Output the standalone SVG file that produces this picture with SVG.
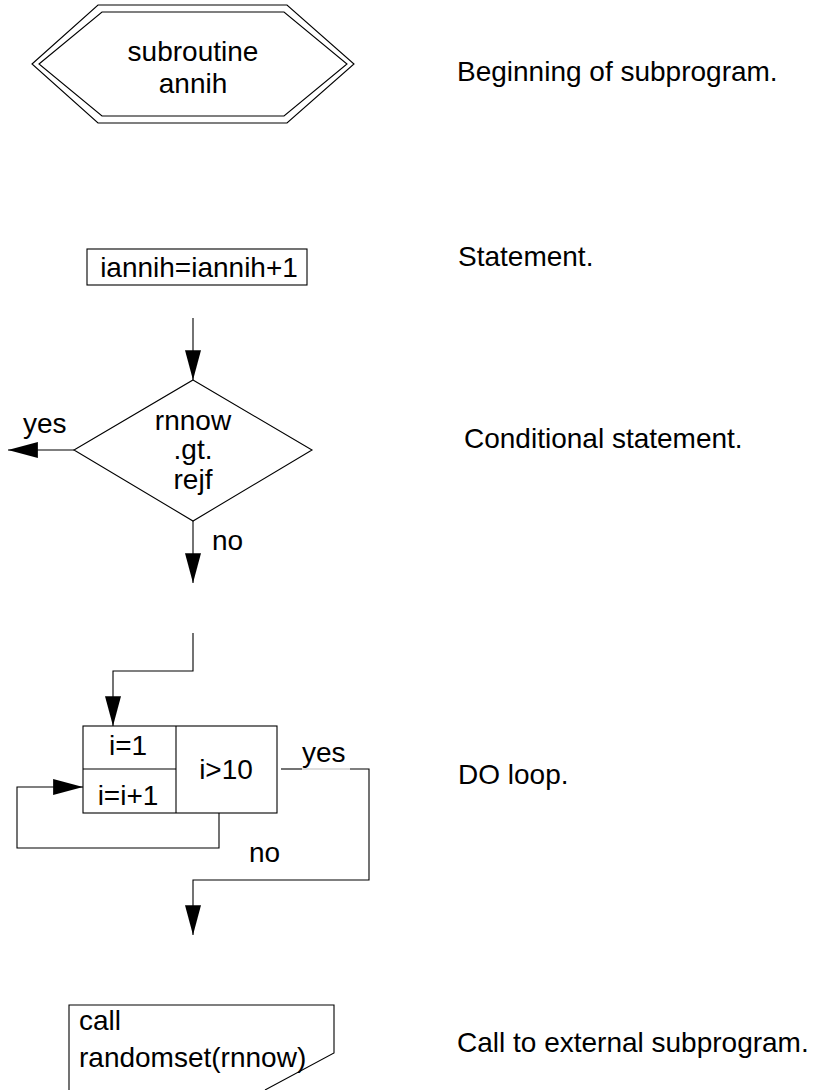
<svg xmlns="http://www.w3.org/2000/svg" width="815" height="1090" viewBox="0 0 815 1090">
<style>
text{font-family:"Liberation Sans",Arial,sans-serif;font-size:28px;fill:#000}
.c{text-anchor:middle}
.s{fill:none;stroke:#000;stroke-width:1.1}
.w{fill:#fff;stroke:#000;stroke-width:1.1}
</style>
<defs>
<marker id="ah" markerUnits="userSpaceOnUse" markerWidth="30" markerHeight="16" viewBox="0 0 28 15" refX="28" refY="7.5" orient="auto">
<path d="M0,0 L28,7.5 L0,15 Z" fill="#000"/>
</marker>
</defs>
<rect width="815" height="1090" fill="#fff"/>
<g id="start">
<polygon class="w" points="32,64 98,5 287,5 354,64 287,123 98,123"/>
<polygon class="s" points="39,64 102,12 284,12 347,64 284,116 102,116"/>
<text class="c" x="193" y="61">subroutine</text>
<text class="c" x="193" y="93">annih</text>
</g>
<g id="statement">
<rect class="w" x="87" y="249" width="220" height="36"/>
<text class="c" x="199" y="277">iannih=iannih+1</text>
</g>
<g id="cond">
<polygon class="w" points="193,380 312,450 193,521 74,450"/>
<text class="c" x="193" y="430">rnnow</text>
<text class="c" x="193" y="459">.gt.</text>
<text class="c" x="193" y="489">rejf</text>
</g>
<g id="doloop">
<rect class="w" x="83" y="726" width="194" height="87"/>
<line class="s" x1="176" y1="726" x2="176" y2="813"/>
<line class="s" x1="83" y1="769" x2="176" y2="769"/>
<text class="c" x="128" y="755">i=1</text>
<text class="c" x="128" y="805">i=i+1</text>
<text class="c" x="226" y="779">i&gt;10</text>
</g>
<g id="call">
<path class="s" d="M69,1090 L69,1005 L334,1005 L334,1053 L265,1090"/>
<text x="79" y="1030">call</text>
<text x="79" y="1067">randomset(rnnow)</text>
</g>
<g id="connectors">
<line class="s" x1="193" y1="318" x2="193" y2="380" marker-end="url(#ah)"/>
<line class="s" x1="74" y1="450" x2="8" y2="450" marker-end="url(#ah)"/>
<line class="s" x1="193" y1="521" x2="193" y2="583" marker-end="url(#ah)"/>
<polyline class="s" points="193,633 193,671 113,671 113,726" marker-end="url(#ah)"/>
<polyline class="s" points="219,813 219,848 17,848 17,787 83,787" marker-end="url(#ah)"/>
<line class="s" x1="281" y1="769" x2="302" y2="769"/>
<line x1="302" y1="769" x2="350" y2="769" stroke="#bbb" stroke-width="1.1"/>
<polyline class="s" points="350,769 369,769 369,880 193,880 193,935" marker-end="url(#ah)"/>
</g>
<g id="labels">
<text x="23" y="433">yes</text>
<text x="212" y="550">no</text>
<text x="302" y="762">yes</text>
<text x="249" y="862">no</text>
<text x="457" y="81">Beginning of subprogram.</text>
<text x="458" y="266">Statement.</text>
<text x="464" y="448">Conditional statement.</text>
<text x="458" y="784">DO loop.</text>
<text x="457" y="1052">Call to external subprogram.</text>
</g>
</svg>
